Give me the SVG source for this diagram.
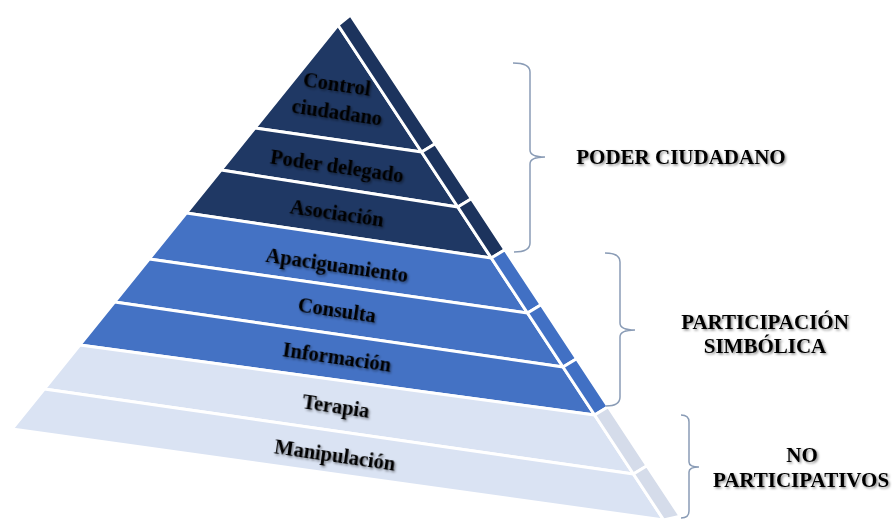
<svg xmlns="http://www.w3.org/2000/svg" width="892" height="523" viewBox="0 0 892 523">
<style>
.f{stroke:#fff;stroke-width:3;stroke-linejoin:round}
.d{fill:#1f3864}.ds{fill:#1c335d}
.m{fill:#4472c4}.ms{fill:#4170c4}
.l{fill:#dae3f3}.ls{fill:#d5dcea}
.t{font-family:"Liberation Serif","Times New Roman",serif;font-weight:bold;font-size:20.5px;fill:#000;text-anchor:middle;filter:url(#sh)}
.c{font-size:21px}
.b{fill:none;stroke:#8a9cb6;stroke-width:1.5}
</style>
<defs>
<filter id="sh" x="-10%" y="-30%" width="120%" height="160%">
<feDropShadow dx="1.5" dy="1.5" stdDeviation="1.2" flood-color="#000" flood-opacity="0.45"/>
</filter>
</defs>
<g id="control">
<polygon class="f d" points="338,25 421.6,152 254.9,128"/>
<polygon class="f ds" points="338,25 350.4,15 435.2,143.8 421.6,152"/>
<text class="t" transform="rotate(8.25 337 84)" x="337" y="91">Control</text>
<text class="t" transform="rotate(8.25 337 112)" x="337" y="119">ciudadano</text>
</g>
<g id="poder">
<polygon class="f d" points="254.9,128 421.6,152 457.8,207 221,170"/>
<polygon class="f ds" points="421.6,152 435.2,143.8 471.4,198.8 457.8,207"/>
<text class="t" transform="rotate(8.25 337 166)" x="337" y="173">Poder delegado</text>
</g>
<g id="asociacion">
<polygon class="f d" points="221,170 457.8,207 491.3,258 186.3,213"/>
<polygon class="f ds" points="457.8,207 471.4,198.8 504.9,249.8 491.3,258"/>
<text class="t" transform="rotate(8.25 337 213)" x="337" y="220">Asociación</text>
</g>
<g id="apaciguamiento">
<polygon class="f m" points="186.3,213 491.3,258 527.5,313 149.2,259"/>
<polygon class="f ms" points="491.3,258 504.9,249.8 541.1,304.8 527.5,313"/>
<text class="t" transform="rotate(8.25 337 265)" x="337" y="272">Apaciguamiento</text>
</g>
<g id="consulta">
<polygon class="f m" points="149.2,259 527.5,313 563,367 114.5,302"/>
<polygon class="f ms" points="527.5,313 541.1,304.8 576.6,358.8 563,367"/>
<text class="t" transform="rotate(8.25 337 310)" x="337" y="317">Consulta</text>
</g>
<g id="informacion">
<polygon class="f m" points="114.5,302 563,367 594.6,415 79.8,345"/>
<polygon class="f ms" points="563,367 576.6,358.8 608.2,406.8 594.6,415"/>
<text class="t" transform="rotate(8.25 337 357)" x="337" y="364">Información</text>
</g>
<g id="terapia">
<polygon class="f l" points="79.8,345 594.6,415 633.4,474 44.3,389"/>
<polygon class="f ls" points="594.6,415 608.2,406.8 647,465.8 633.4,474"/>
<text class="t" transform="rotate(8.25 336 406)" x="336" y="413">Terapia</text>
</g>
<g id="manipulacion">
<polygon class="f l" points="44.3,389 633.4,474 663.7,520 12,429"/>
<polygon class="f ls" points="633.4,474 647,465.8 680.2,516.2 663.7,520"/>
<text class="t" transform="rotate(8.25 335 455)" x="335" y="462">Manipulación</text>
</g>
<g id="connectors">
<path class="b" d="M513,63 Q530,63 530,72 L530,150 Q530,157 545,157 Q530,157 530,164 L530,243 Q530,252 514,252"/>
<path class="b" d="M605,253 Q620,253 620,262 L620,323 Q620,330 635,330 Q620,330 620,337 L620,397 Q620,406 606,406"/>
<path class="b" d="M681,415 Q689,415 689,422 L689,462 Q689,467 699,467 Q689,467 689,472 L689,511 Q689,518 681,518"/>
</g>
<g id="poder-ciudadano">
<text class="t c" x="681" y="164">PODER CIUDADANO</text>
</g>
<g id="participacion-simbolica">
<text class="t c" x="765" y="329">PARTICIPACIÓN</text>
<text class="t c" x="765" y="353">SIMBÓLICA</text>
</g>
<g id="no-participativos">
<text class="t c" x="802" y="462">NO</text>
<text class="t c" x="801" y="487">PARTICIPATIVOS</text>
</g>
</svg>
